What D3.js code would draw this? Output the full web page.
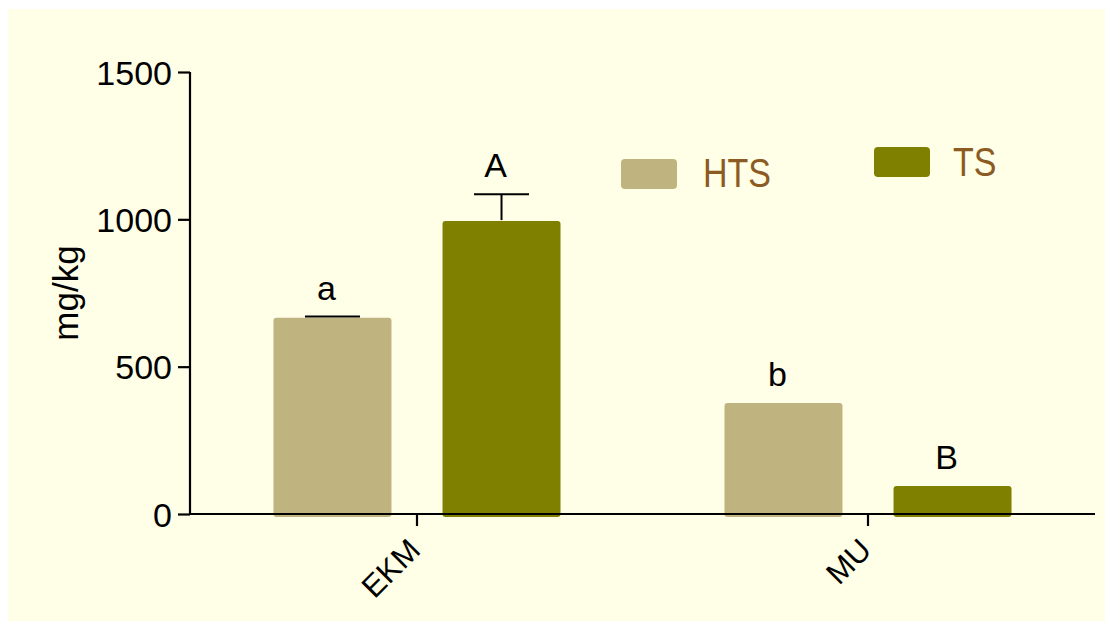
<!DOCTYPE html>
<html><head><meta charset="utf-8">
<script src="https://cdn.jsdelivr.net/npm/d3@7"></script>
<style>
html,body{margin:0;padding:0;background:#fff;}
svg{display:block;font-family:"Liberation Sans",Arial,sans-serif;}
</style></head>
<body>
<svg id="c" width="1105" height="621"></svg>
<script>
const categories = ["EKM", "MU"];
const seriesNames = ["HTS", "TS"];
const htsValues = [666, 377];
const tsValues = [994, 95];
const htsErrors = [4, 0];
const tsErrors = [91, 0];
const htsLetters = ["a", "b"];
const tsLetters = ["A", "B"];
const yTicks = [0, 500, 1000, 1500];
const colors = {HTS: "#BFB47F", TS: "#808000"};

const svg = d3.select("#c");
svg.append("rect").attr("x", 8).attr("y", 9).attr("width", 1097).attr("height", 612).attr("fill", "#FFFEE6");

const y = d3.scaleLinear().domain([0, 1500]).range([514, 72]);
const x = d3.scaleBand().domain(categories).range([190, 1095]).paddingInner(0).paddingOuter(0.0033);
const xi = d3.scaleBand().domain(seriesNames).range([0, x.bandwidth()]).paddingInner(0.302).paddingOuter(0.485);

const rows = [];
categories.forEach((c, i) => {
  rows.push({cat: c, s: "HTS", v: htsValues[i], e: htsErrors[i], l: htsLetters[i]});
  rows.push({cat: c, s: "TS", v: tsValues[i], e: tsErrors[i], l: tsLetters[i]});
});

const g = svg.append("g");
// bars
g.selectAll("rect.bar").data(rows).join("rect").attr("class", "bar")
  .attr("x", d => x(d.cat) + xi(d.s))
  .attr("y", d => y(d.v))
  .attr("width", xi.bandwidth())
  .attr("height", d => y(0) - y(d.v) + 3)
  .attr("rx", 3)
  .attr("fill", d => colors[d.s]);

// error bars
const eb = rows.filter(d => d.e > 0);
g.selectAll("line.ev").data(eb).join("line").attr("class", "ev")
  .attr("x1", d => x(d.cat) + xi(d.s) + xi.bandwidth() / 2)
  .attr("x2", d => x(d.cat) + xi(d.s) + xi.bandwidth() / 2)
  .attr("y1", d => y(d.v) - 1).attr("y2", d => y(d.v + d.e))
  .attr("stroke", "#000").attr("stroke-width", 2);
g.selectAll("line.ec").data(eb).join("line").attr("class", "ec")
  .attr("x1", d => x(d.cat) + xi(d.s) + xi.bandwidth() / 2 - 27.5)
  .attr("x2", d => x(d.cat) + xi(d.s) + xi.bandwidth() / 2 + 27.5)
  .attr("y1", d => y(d.v + d.e)).attr("y2", d => y(d.v + d.e))
  .attr("stroke", "#000").attr("stroke-width", 2);

// letters
g.selectAll("text.lt").data(rows).join("text").attr("class", "lt")
  .attr("x", d => x(d.cat) + xi(d.s) + xi.bandwidth() / 2 - 6)
  .attr("y", d => y(d.v + d.e) - 17)
  .attr("text-anchor", "middle")
  .attr("font-size", 34)
  .attr("fill", "#000")
  .text(d => d.l);

// y axis
const ya = svg.append("g").attr("transform", "translate(190,0)")
  .call(d3.axisLeft(y).tickValues(yTicks).tickFormat(d3.format("d")).tickSize(12).tickSizeOuter(0).tickPadding(6));
ya.select(".domain").attr("stroke-width", 2.2).attr("d", "M0,72V515");
ya.selectAll(".tick line").attr("stroke-width", 2.2);
ya.selectAll(".tick text").attr("font-size", 34).attr("fill", "#000")
  .attr("font-family", "Liberation Sans, Arial, sans-serif").attr("dy", "0.36em");

// x axis
const xa = svg.append("g").attr("transform", "translate(0,514)")
  .call(d3.axisBottom(x).tickSize(12).tickSizeOuter(0));
xa.select(".domain").attr("stroke-width", 2.2).attr("d", "M190,0H1095");
xa.selectAll(".tick line").attr("stroke-width", 2.2);
xa.selectAll(".tick text").attr("font-size", 31).attr("fill", "#000")
  .attr("font-family", "Liberation Sans, Arial, sans-serif")
  .attr("text-anchor", "end").attr("dy", null).attr("y", null).attr("x", null)
  .attr("transform", "translate(5,38) rotate(-45)");

// y label
svg.append("text").attr("transform", "translate(78,293) rotate(-90)")
  .attr("text-anchor", "middle").attr("font-size", 35).attr("fill", "#000").text("mg/kg");

// legend
const legend = [
  {name: seriesNames[0], rx: 621, ry: 159, tx: 703, ty: 187},
  {name: seriesNames[1], rx: 874, ry: 147, tx: 953, ty: 176}
];
const lg = svg.append("g");
lg.selectAll("rect").data(legend).join("rect")
  .attr("x", d => d.rx).attr("y", d => d.ry).attr("width", 56).attr("height", 30).attr("rx", 4)
  .attr("fill", d => colors[d.name]);
lg.selectAll("text").data(legend).join("text")
  .attr("transform", d => `translate(${d.tx},${d.ty}) scale(0.85,1)`)
  .attr("font-size", 40).attr("fill", "#8C5A23").text(d => d.name);
</script>
</body></html>
